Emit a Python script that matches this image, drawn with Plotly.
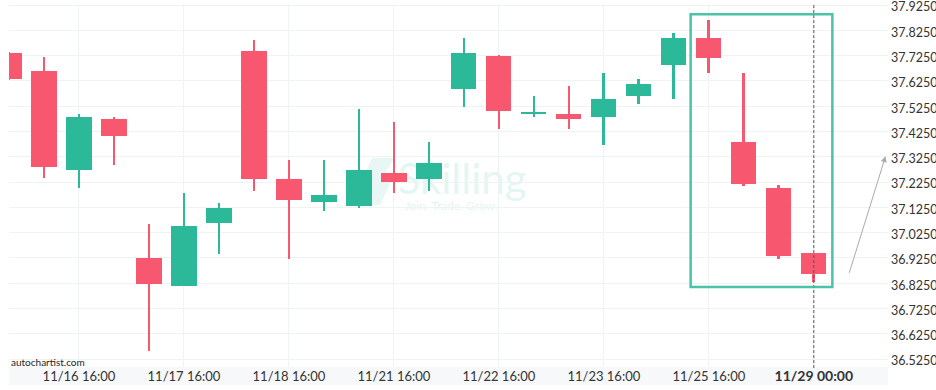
import plotly.graph_objects as go

# ---- data ----
opens  = [37.736, 37.665, 37.274, 37.475, 36.923, 36.814, 37.063, 37.744, 37.235, 37.145,
          37.132, 37.262, 37.235, 37.594, 37.724, 37.495, 37.495, 37.483, 37.567, 37.686,
          37.795, 37.385, 37.202, 36.943]
highs  = [37.740, 37.721, 37.494, 37.483, 37.060, 37.182, 37.143, 37.786, 37.313, 37.313,
          37.515, 37.462, 37.384, 37.794, 37.726, 37.565, 37.604, 37.656, 37.632, 37.813,
          37.865, 37.656, 37.214, 36.945]
lows   = [37.630, 37.242, 37.202, 37.291, 36.558, 36.812, 36.942, 37.189, 36.922, 37.110,
          37.123, 37.182, 37.189, 37.520, 37.435, 37.481, 37.435, 37.370, 37.533, 37.553,
          37.656, 37.211, 36.922, 36.830]
closes = [37.633, 37.283, 37.483, 37.406, 36.821, 37.053, 37.124, 37.236, 37.153, 37.172,
          37.274, 37.224, 37.302, 37.736, 37.504, 37.503, 37.475, 37.554, 37.612, 37.795,
          37.717, 37.216, 36.931, 36.860]

tick_index = [2, 5, 8, 11, 14, 17, 20, 23]
tick_labels = ["11/16 16:00", "11/17 16:00", "11/18 16:00", "11/21 16:00",
               "11/22 16:00", "11/23 16:00", "11/25 16:00",
               "<span style='font-size:14px'><b>11/29 00:00</b></span>"]
y_ticks = [36.525, 36.625, 36.725, 36.825, 36.925, 37.025, 37.125, 37.225,
           37.325, 37.425, 37.525, 37.625, 37.725, 37.825, 37.925]

# pattern box / projection
box_x = [19.48, 23.53]
box_y = [36.810, 37.888]
arrow_from = (24.0, 36.860)
arrow_to = (25.05, 37.327)
now_index = 23

GREEN = "#2bb99a"
RED = "#f8586f"

idx = list(range(len(opens)))
colors = [GREEN if c >= o else RED for o, c in zip(opens, closes)]

fig = go.Figure()
fig.add_trace(go.Bar(
    x=idx, y=[h - l for h, l in zip(highs, lows)], base=lows,
    width=0.05, marker=dict(color=colors, line=dict(width=0)),
    hoverinfo="skip", showlegend=False))
fig.add_trace(go.Bar(
    x=idx, y=[max(abs(c - o), 0.006) for o, c in zip(opens, closes)],
    base=[min(o, c) for o, c in zip(opens, closes)],
    width=0.72, marker=dict(color=colors, line=dict(width=0)),
    showlegend=False))

L, R, T, B = 9, 48, 4, 23
W, H = 936, 390
pw, ph = W - L - R, H - T - B

def px(x):
    return (x - L) / pw

def py(y):
    return (H - B - y) / ph

shapes = [
    # x-axis band
    dict(type="rect", xref="paper", yref="paper", x0=0, x1=1, y0=-18 / ph, y1=0,
         fillcolor="#f7f8fa", line=dict(width=0), layer="below"),
    # watermark logo
    dict(type="path", xref="paper", yref="paper",
         path=f"M {px(372)} {py(158)} L {px(394)} {py(158)} L {px(383)} {py(178)} "
              f"L {px(390)} {py(184)} L {px(380)} {py(205)} L {px(360)} {py(205)} "
              f"L {px(370)} {py(185)} L {px(363)} {py(178)} Z",
         fillcolor="rgba(43,185,154,0.11)", line=dict(width=0), layer="below"),
    # watermark text
    dict(type="rect", xref="paper", yref="paper", x0=px(396), x1=px(528), y0=py(196), y1=py(158),
         fillcolor="rgba(0,0,0,0)", line=dict(width=0), layer="below",
         label=dict(text="Skilling", font=dict(family="Lato", size=42, color="rgba(43,185,154,0.14)"),
                    textposition="middle center")),
    dict(type="rect", xref="paper", yref="paper", x0=px(398), x1=px(504), y0=py(212), y1=py(198),
         fillcolor="rgba(0,0,0,0)", line=dict(width=0), layer="below",
         label=dict(text="Join. Trade. Grow.", font=dict(family="Lato", size=12, color="rgba(43,185,154,0.16)"),
                    textposition="middle center")),
    # dashed "now" line
    dict(type="line", xref="x", yref="paper", x0=now_index, x1=now_index, y0=-0.003, y1=1,
         line=dict(color="#555", width=1, dash="3px,2px")),
    # pattern box
    dict(type="rect", xref="x", yref="y", x0=box_x[0], x1=box_x[1], y0=box_y[0], y1=box_y[1],
         line=dict(color="rgba(43,185,154,0.85)", width=2.5), fillcolor="rgba(0,0,0,0)"),
]

fig.update_layout(
    width=W, height=H,
    margin=dict(l=L, r=R, t=T, b=B, autoexpand=False),
    paper_bgcolor="white", plot_bgcolor="white",
    barmode="overlay", bargap=0,
    font=dict(family="Lato", size=13, color="#333"),
    shapes=shapes,
    showlegend=False,
    annotations=[
        dict(x=arrow_to[0], y=arrow_to[1], ax=arrow_from[0], ay=arrow_from[1],
             xref="x", yref="y", axref="x", ayref="y", text="", showarrow=True,
             arrowhead=2, arrowsize=1.2, arrowwidth=1, arrowcolor="#aaa"),
        dict(x=0, y=py(362), xref="paper", yref="paper", text="autochartist.com",
             showarrow=False, xanchor="left", yanchor="middle",
             font=dict(family="Lato", size=10, color="#222")),
    ],
)
fig.update_xaxes(range=[0.0, 25.12], tickvals=tick_index, ticktext=tick_labels,
                 showgrid=True, gridcolor="#f0f3f6", gridwidth=1, zeroline=False,
                 showline=False, ticks="", tickfont=dict(size=13, color="#333"),
                 automargin=False, fixedrange=True)
fig.update_yaxes(range=[36.4934, 37.929], side="right", tickvals=y_ticks, tickformat=".4f",
                 showgrid=True, gridcolor="#f0f3f6", gridwidth=1, zeroline=False,
                 showline=False, ticks="", tickfont=dict(size=12.5, color="#333"),
                 ticklabeloverflow="allow", ticklabelstandoff=2, ticklabelshift=2,
                 automargin=False, fixedrange=True)

fig.write_html("out.html")
